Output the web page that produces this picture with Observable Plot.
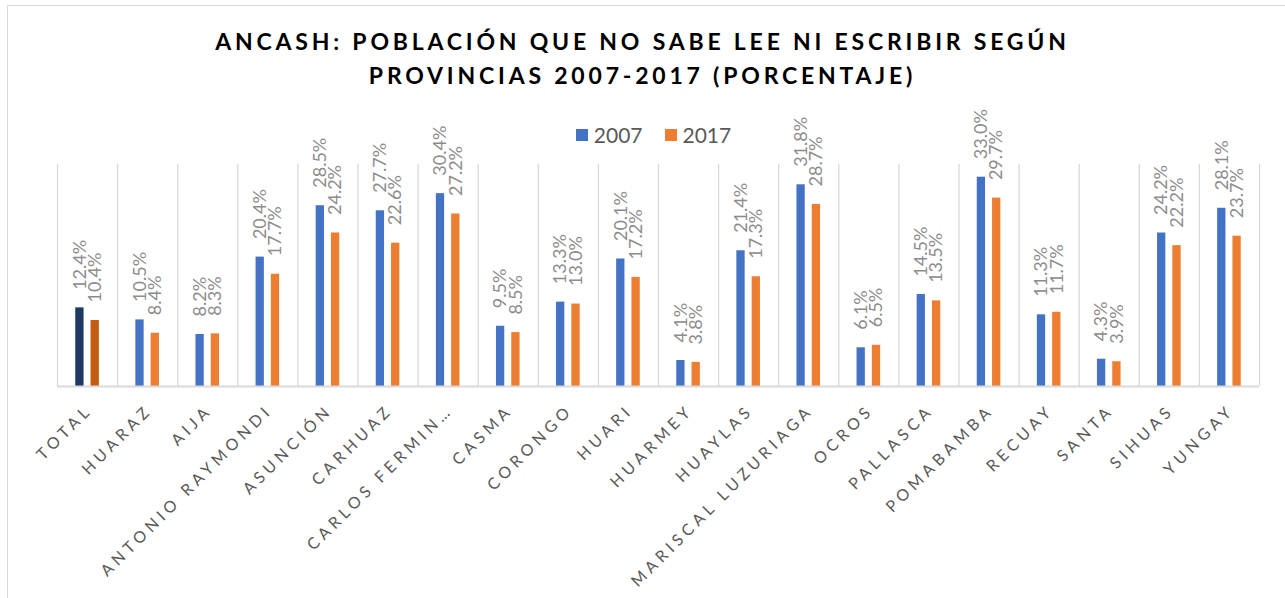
<!DOCTYPE html>
<html>
<head>
<meta charset="utf-8">
<script src="https://cdn.jsdelivr.net/npm/d3@7"></script>
<script src="https://cdn.jsdelivr.net/npm/@observablehq/plot@0.6"></script>
<style>
  html, body { margin: 0; padding: 0; background: #fff; }
  #wrap { position: relative; width: 1285px; height: 598px; overflow: hidden; font-family: Lato, "Open Sans", sans-serif; }
  #border { position: absolute; left: 7px; top: 5px; width: 1290px; height: 600px; border: 1.5px solid #d9d9d9; box-sizing: border-box; }
  #title { position: absolute; left: 0; width: 1285px; top: 24px; text-align: center; font-weight: 700; font-size: 23px; letter-spacing: 3.8px; line-height: 34px; color: #000; }
  #legend { position: absolute; top: 122px; left: 0; width: 1285px; padding-left: 22px; box-sizing: border-box; display: flex; justify-content: center; gap: 22px; font-size: 21px; color: #595959; }
  #legend span.item { display: flex; align-items: center; gap: 6px; }
  #legend i { display: inline-block; width: 12px; height: 12px; }
  #chart { position: absolute; left: 0; top: 0; }
</style>
</head>
<body>
<div id="wrap">
  <div id="border"></div>
  <div id="chart"></div>
  <div id="title">ANCASH: POBLACIÓN QUE NO SABE LEE NI ESCRIBIR SEGÚN<br>PROVINCIAS 2007-2017 (PORCENTAJE)</div>
  <div id="legend"></div>
</div>
<script>
const categories = ["TOTAL","HUARAZ","AIJA","ANTONIO RAYMONDI","ASUNCIÓN","CARHUAZ","CARLOS FERMIN…","CASMA","CORONGO","HUARI","HUARMEY","HUAYLAS","MARISCAL LUZURIAGA","OCROS","PALLASCA","POMABAMBA","RECUAY","SANTA","SIHUAS","YUNGAY"];
const v2007 = [12.4,10.5,8.2,20.4,28.5,27.7,30.4,9.5,13.3,20.1,4.1,21.4,31.8,6.1,14.5,33.0,11.3,4.3,24.2,28.1];
const v2017 = [10.4,8.4,8.3,17.7,24.2,22.6,27.2,8.5,13.0,17.2,3.8,17.3,28.7,6.5,13.5,29.7,11.7,3.9,22.2,23.7];
const seriesNames = ["2007","2017"];
const seriesColors = ["#4472C4","#ED7D31"];
const totalColors = ["#203864","#C55A11"];

const rows = categories.map((c, i) => ({cat: c, a: v2007[i], b: v2017[i]}));

const W = 1285, H = 598;
const mL = 57, mR = 26, mT = 164, mB = 212;
const step = (W - mL - mR) / categories.length;
const half = step / 2;
const barW = 8.3, gap = 3.5;
const off = gap + barW / 2;

const fmt = v => v.toFixed(1) + "%";

const chart = Plot.plot({
  width: W, height: H,
  marginLeft: mL, marginRight: mR, marginTop: mT, marginBottom: mB,
  style: {fontFamily: "Lato, 'Open Sans', sans-serif", background: "transparent"},
  x: {type: "band", domain: categories, padding: 0, round: false, axis: null},
  y: {domain: [0, 35], axis: null},
  marks: [
    Plot.ruleX(categories, {x: d => d, y1: 0, y2: 35, dx: -half, stroke: "#d9d9d9", strokeWidth: 1.3}),
    Plot.ruleX([categories[categories.length - 1]], {x: d => d, y1: 0, y2: 35, dx: half, stroke: "#d9d9d9", strokeWidth: 1.3}),
    Plot.barY(rows, {x: "cat", y: "a", fill: d => d.cat === "TOTAL" ? totalColors[0] : seriesColors[0],
      insetLeft: half - off - barW / 2, insetRight: half + gap}),
    Plot.barY(rows, {x: "cat", y: "b", fill: d => d.cat === "TOTAL" ? totalColors[1] : seriesColors[1],
      insetLeft: half + gap, insetRight: half - off - barW / 2}),
    Plot.ruleY([0], {stroke: "#d9d9d9", strokeWidth: 2}),
    Plot.text(rows, {x: "cat", y: "a", text: d => fmt(d.a), rotate: -90, textAnchor: "start", dx: -off, dy: -18, fontSize: 18, fill: "#8c8c8c"}),
    Plot.text(rows, {x: "cat", y: "b", text: d => fmt(d.b), rotate: -90, textAnchor: "start", dx: off, dy: -18, fontSize: 18, fill: "#8c8c8c"}),
    Plot.text(categories, {x: d => d, y: 0, text: d => d, rotate: -45, textAnchor: "end", dx: 2, dy: 21, fontSize: 16, fill: "#595959"})
  ]
});
document.getElementById("chart").appendChild(chart);

// letter spacing for category tick labels
const catSet = new Set(categories);
d3.select(chart).selectAll("text").filter(function() { return catSet.has(this.textContent); })
  .style("letter-spacing", "4.4px");

const legend = document.getElementById("legend");
seriesNames.forEach((n, i) => {
  const s = document.createElement("span");
  s.className = "item";
  s.innerHTML = `<i style="background:${seriesColors[i]}"></i>${n}`;
  legend.appendChild(s);
});
</script>
</body>
</html>
